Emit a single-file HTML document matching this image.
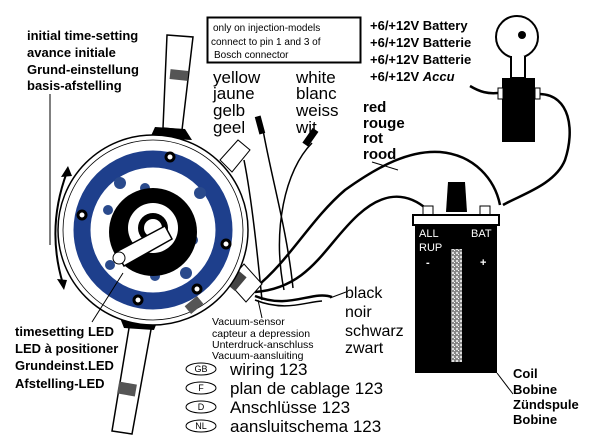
<!DOCTYPE html>
<html><head><meta charset="utf-8"><style>
html,body{margin:0;padding:0;background:#fff}
svg{display:block}
text{font-family:"Liberation Sans",sans-serif;fill:#000}
.b{font-weight:bold}
</style></head><body>
<svg width="600" height="447" viewBox="0 0 600 447" xmlns="http://www.w3.org/2000/svg">
<defs>
<pattern id="sp" width="4" height="4" patternUnits="userSpaceOnUse">
<rect width="4" height="4" fill="#888"/><rect x="0" y="0" width="2" height="2" fill="#ddd"/><rect x="2" y="2" width="1" height="1" fill="#fff"/>
</pattern>
</defs>
<g font-size="13">
<text x="27" y="40" class="b">initial time-setting</text>
<text x="27" y="57" class="b">avance initiale</text>
<text x="27" y="74" class="b">Grund-einstellung</text>
<text x="27" y="90" class="b">basis-afstelling</text>
</g>
<line x1="50" y1="94" x2="50" y2="245" stroke="#000" stroke-width="1"/>
<rect x="207.5" y="17.5" width="153" height="45" fill="#fff" stroke="#000" stroke-width="2"/>
<text x="213" y="31" font-size="10">only on injection-models</text>
<text x="211" y="45" font-size="10">connect to pin 1 and 3 of</text>
<text x="214" y="58" font-size="10">Bosch connector</text>
<g font-size="17">
<text x="213" y="83">yellow</text><text x="213" y="99">jaune</text><text x="213" y="116">gelb</text><text x="213" y="133">geel</text>
<text x="296" y="83">white</text><text x="296" y="99">blanc</text><text x="296" y="116">weiss</text><text x="296" y="133">wit</text>
</g>
<g font-size="13">
<text x="370" y="30" class="b">+6/+12V Battery</text>
<text x="370" y="47" class="b">+6/+12V Batterie</text>
<text x="370" y="64" class="b">+6/+12V Batterie</text>
<text x="370" y="81" class="b">+6/+12V <tspan font-style="italic">Accu</tspan></text>
</g>
<g font-size="15">
<text x="363" y="112" class="b">red</text><text x="363" y="128" class="b">rouge</text><text x="363" y="143" class="b">rot</text><text x="363" y="159" class="b">rood</text>
</g>
<line x1="372" y1="162" x2="398" y2="170" stroke="#000" stroke-width="1"/>

<!-- key switch -->
<circle cx="517" cy="37" r="21" fill="#fff" stroke="#000" stroke-width="2"/>
<circle cx="522" cy="35" r="4" fill="#000"/>
<path d="M511,56 L511,78 L525,78 L525,56" fill="#fff" stroke="#000" stroke-width="2"/>
<rect x="502" y="78" width="33" height="64" fill="#000"/>
<rect x="498" y="88" width="5" height="11" fill="#fff" stroke="#000"/>
<rect x="535" y="88" width="5" height="11" fill="#fff" stroke="#000"/>
<path d="M470,86 C480,92 488,94 498,93" fill="none" stroke="#000" stroke-width="2.5"/>
<path d="M540,94 C570,95 575,130 565,160 C555,185 520,195 503,205" fill="none" stroke="#000" stroke-width="2.5"/>

<!-- wires -->
<g fill="none" stroke="#000" stroke-width="2.5">
<path d="M255,288 C290,260 310,220 345,190 C380,165 410,150 440,152 C475,155 495,180 500,205"/>
<path d="M255,292 C310,288 325,245 358,215 C382,193 405,190 428,210"/>
<path d="M255,296 C290,310 312,290 332,297"/>
<path d="M255,300 C285,312 305,302 322,301" stroke-width="1.5"/>
<path d="M263,130 C272,180 287,230 293,288" stroke-width="1.5"/>
<path d="M312,143 C285,170 272,230 284,290" stroke-width="1.5"/>
<path d="M244,160 C252,200 258,260 262,300" stroke-width="1.5"/>
</g>
<rect x="257" y="116" width="6" height="18" fill="#000" transform="rotate(-15 260 125)"/>
<rect x="307" y="128" width="7" height="18" fill="#000" transform="rotate(35 310 137)"/>
<line x1="330" y1="298" x2="346" y2="292" stroke="#000" stroke-width="1"/>
<line x1="258" y1="300" x2="262" y2="318" stroke="#000" stroke-width="1"/>

<!-- coil -->
<path d="M448,182 L465,182 L467,212 L446,212 Z" fill="#000"/>
<rect x="423" y="206" width="10" height="9" fill="#fff" stroke="#000"/>
<rect x="480" y="206" width="10" height="9" fill="#fff" stroke="#000"/>
<rect x="413" y="215" width="86" height="10" fill="#fff" stroke="#000" stroke-width="2"/>
<rect x="415" y="225" width="82" height="148" fill="#000"/>
<rect x="451" y="249" width="11" height="113" fill="url(#sp)"/>
<g font-size="11">
<text x="419" y="237" style="fill:#fff">ALL</text><text x="419" y="251" style="fill:#fff">RUP</text>
<text x="471" y="237" style="fill:#fff">BAT</text>
<text x="426" y="266" style="fill:#fff" class="b">-</text><text x="480" y="266" style="fill:#fff" class="b">+</text>
</g>
<line x1="497" y1="373" x2="513" y2="394" stroke="#000" stroke-width="1"/>
<g font-size="13">
<text x="513" y="378" class="b">Coil</text><text x="513" y="394" class="b">Bobine</text>
<text x="513" y="409" class="b">Zündspule</text><text x="513" y="424" class="b">Bobine</text>
</g>

<!-- distributor shafts -->
<path d="M167,35 L193,37 L182,130 L163,128 Z" fill="#fff" stroke="#000" stroke-width="1.5"/>
<rect x="170" y="70" width="18" height="10" fill="#555" transform="rotate(6 179 75)"/>
<path d="M150,138 L155,127 L185,129 L192,140 Z" fill="#000"/>
<path d="M130,322 L152,324 L132,434 L112,431 Z" fill="#fff" stroke="#000" stroke-width="1.5"/>
<rect x="118" y="383" width="18" height="12" fill="#555" transform="rotate(10 127 389)"/>
<path d="M120,318 L158,320 L154,330 L124,328 Z" fill="#000"/>
<!-- side connectors -->
<path d="M220,160 L238,140 L250,150 L232,172 Z" fill="#fff" stroke="#000"/>
<path d="M228,282 L244,264 L262,284 L246,302 Z" fill="#fff" stroke="#000"/>
<rect x="232" y="272" width="10" height="18" fill="#444" transform="rotate(40 237 281)"/>
<!-- housing -->
<circle cx="153" cy="230" r="95" fill="#fff" stroke="#000" stroke-width="1.5"/>
<circle cx="153" cy="230" r="90" fill="none" stroke="#000" stroke-width="0.8"/>
<circle cx="153" cy="230" r="71" fill="none" stroke="#1e3f8c" stroke-width="17"/>
<rect x="186" y="300" width="16" height="10" fill="#555" transform="rotate(-40 194 305)"/>
<g fill="#fff" stroke="#000" stroke-width="3">
<circle cx="170" cy="157" r="4"/><circle cx="82" cy="215" r="4"/><circle cx="226" cy="244" r="4"/><circle cx="197" cy="289" r="4"/><circle cx="138" cy="300" r="4"/>
</g>
<g fill="#2a4a8c"><circle cx="120" cy="183" r="6"/><circle cx="186" cy="273" r="6"/><circle cx="200" cy="193" r="6"/>
<circle cx="145" cy="188" r="5"/><circle cx="108" cy="210" r="5"/><circle cx="110" cy="265" r="5"/><circle cx="155" cy="276" r="5"/><circle cx="193" cy="240" r="5"/></g>
<circle cx="153" cy="232" r="44" fill="#000"/>
<circle cx="153" cy="228" r="25" fill="#fff"/>
<circle cx="153" cy="228" r="15" fill="#000"/>
<circle cx="153" cy="228" r="9" fill="#fff"/>
<path d="M165,226 L172,239 L124,266 L116,252 Z" fill="#fff" stroke="#000" stroke-width="1.5"/>
<circle cx="119" cy="258" r="6" fill="#fff" stroke="#000"/>
<!-- rotation arrow -->
<path d="M67,172 Q46,228 63,284" fill="none" stroke="#000" stroke-width="2"/>
<path d="M68,166 L61,177 L72,176 Z" fill="#000"/>
<path d="M64,290 L57,279 L67,280 Z" fill="#000"/>
<line x1="92" y1="322" x2="123" y2="273" stroke="#000" stroke-width="1"/>

<g font-size="13">
<text x="15" y="336" class="b">timesetting LED</text>
<text x="15" y="353" class="b">LED à positioner</text>
<text x="15" y="370" class="b">Grundeinst.LED</text>
<text x="15" y="388" class="b">Afstelling-LED</text>
</g>
<g font-size="10.5">
<text x="212" y="325">Vacuum-sensor</text><text x="212" y="337">capteur a depression</text>
<text x="212" y="348">Unterdruck-anschluss</text><text x="212" y="359">Vacuum-aansluiting</text>
</g>
<g font-size="16">
<text x="345" y="298">black</text><text x="345" y="317">noir</text>
<text x="345" y="336">schwarz</text><text x="345" y="353">zwart</text>
</g>
<g fill="#fff" stroke="#000" stroke-width="1">
<ellipse cx="201" cy="369" rx="15" ry="6"/><ellipse cx="201" cy="388" rx="15" ry="6"/>
<ellipse cx="201" cy="407" rx="15" ry="6"/><ellipse cx="201" cy="426" rx="15" ry="6"/>
</g>
<g font-size="9" text-anchor="middle">
<text x="201" y="372">GB</text><text x="201" y="391">F</text><text x="201" y="410">D</text><text x="201" y="429">NL</text>
</g>
<g font-size="17">
<text x="230" y="375">wiring 123</text><text x="230" y="394">plan de cablage 123</text>
<text x="230" y="413">Anschlüsse 123</text><text x="230" y="432">aansluitschema 123</text>
</g>
</svg>
</body></html>
